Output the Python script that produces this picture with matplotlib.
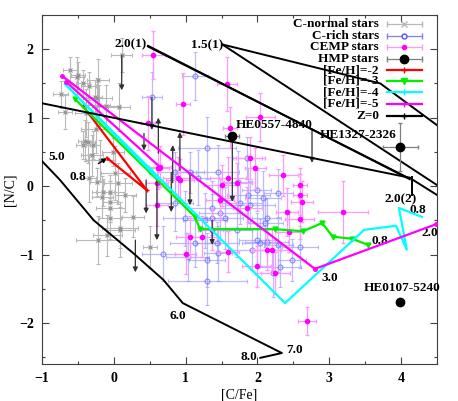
import numpy as np
import matplotlib
matplotlib.use("Agg")
from matplotlib import pyplot as plt
from matplotlib.ticker import MultipleLocator

plt.rcParams['font.family'] = ['Liberation Serif', 'DejaVu Serif']
plt.rcParams['font.weight'] = 'bold'
plt.rcParams['font.size'] = 9.5

# ---- observed stars ----
# C-normal stars
gray_x = [-0.61, -0.51, -0.22, -0.35, -0.23, -0.39, -0.74, -0.68, -0.11, 0.07,
          -0.25, -0.40, -0.01, -0.19, 0.02, -0.23, -0.16, 0.06, -0.36, -0.43,
          -0.29, -0.30, -0.35, -0.15, -0.05, -0.05, -0.05, 0.09, 0.16, -0.05,
          -0.22, 0.09, 0.27, 0.50, -0.09, -0.50, -0.43, -0.26, -0.21, 0.11]
gray_y = [1.69, 1.59, 1.55, 1.46, 1.28, 1.07, 1.34, 1.08, 1.17, 1.15,
          0.83, 0.66, 0.50, 0.38, 0.19, 0.06, -0.16, 0.04, 0.64, 0.60,
          0.60, 0.45, 0.12, -0.09, -0.09, -0.23, -0.47, -0.61, -0.13, -0.32,
          -0.79, -0.64, -0.45, -0.89, -0.72, 1.62, 1.50, 1.30, 1.18, 1.91]
gray_xerr = [0.1, 0.1, 0.15, 0.1, 0.2, 0.15, 0.1, 0.1, 0.2, 0.15,
             0.2, 0.1, 0.15, 0.2, 0.2, 0.1, 0.15, 0.2, 0.1, 0.1,
             0.1, 0.15, 0.1, 0.15, 0.2, 0.1, 0.15, 0.25, 0.15, 0.2,
             0.3, 0.2, 0.15, 0.1, 0.2, 0.1, 0.1, 0.1, 0.15, 0.15]
gray_yerr = [0.2, 0.3, 0.3, 0.2, 0.3, 0.35, 0.2, 0.25, 0.3, 0.35,
             0.35, 0.3, 0.2, 0.3, 0.4, 0.2, 0.3, 0.3, 0.3, 0.2,
             0.2, 0.3, 0.35, 0.2, 0.25, 0.3, 0.3, 0.3, 0.25, 0.2,
             0.35, 0.4, 0.3, 0.3, 0.3, 0.2, 0.2, 0.25, 0.3, 0.25]

# C-rich stars
blue_x = [1.13, 0.53, 1.30, 0.85, 1.06, 1.45, 1.73, 1.86, 1.17, 1.37,
          1.37, 0.99, 0.85, 1.87, 1.99, 2.08, 1.90, 1.72, 1.55, 1.27,
          0.69, 1.03, 1.30, 1.30, 1.13, 1.45, 1.44, 2.04, 2.29, 2.21,
          2.48, 2.59, 1.92, 1.76, 2.29, 1.99, 2.13, 2.31, 2.11, 1.48, 2.13]
blue_y = [1.61, 1.30, 0.56, 0.20, 0.20, 0.20, 0.06, 0.41, 0.12, -0.32,
          -0.47, -0.47, -0.25, -0.13, -0.06, -0.18, -0.28, -0.64, -0.47, -0.50,
          -0.99, -1.04, -1.08, -1.39, -0.83, -0.98, -0.83, -0.83, -0.86, -1.27,
          -1.08, -0.89, -0.93, -0.25, -0.10, -0.79, -0.82, -1.18, -0.54, -0.39, -0.47]
blue_xerr = [0.18, 0.14, 0.4, 0.25, 0.2, 0.3, 0.2, 0.2, 0.3, 0.35,
             0.2, 0.3, 0.25, 0.3, 0.2, 0.25, 0.35, 0.2, 0.25, 0.3,
             0.3, 0.3, 0.25, 0.55, 0.35, 0.2, 0.3, 0.25, 0.2, 0.25,
             0.2, 0.25, 0.3, 0.3, 0.2, 0.25, 0.3, 0.3, 0.25, 0.3, 0.2]
blue_yerr = [0.35, 0.37, 0.45, 0.3, 0.3, 0.4, 0.45, 0.3, 0.4, 0.4,
             0.35, 0.4, 0.4, 0.4, 0.3, 0.4, 0.35, 0.4, 0.45, 0.4,
             0.4, 0.35, 0.4, 0.35, 0.35, 0.4, 0.3, 0.35, 0.4, 0.35,
             0.3, 0.3, 0.3, 0.3, 0.35, 0.4, 0.35, 0.3, 0.35, 0.4, 0.3]

# CEMP stars
cemp_x = [0.55, 0.96, 0.48, 0.62, 0.92, 1.51, 0.60, 1.58, 2.04, 1.62,
          1.90, 1.97, 2.36, 2.59, 1.59, 2.59, 2.62, 2.59, 3.19, 2.41,
          2.44, 1.59, 1.99, 2.25, 2.69, 1.86, 2.20, 1.23, 1.72, 1.48,
          0.64, 0.89, 0.60, 1.06, 1.37, 1.00, 2.13]
cemp_y = [1.91, 1.20, 0.92, 0.26, 0.09, 0.01, 0.04, 1.49, 1.01, 0.85,
          0.41, 0.26, 0.16, 0.01, 0.12, -0.13, -0.23, -0.48, -0.38, -0.38,
          -0.67, -0.96, -1.17, -1.27, -1.97, -0.32, -0.93, -0.74, 0.04, -0.20,
          0.28, 0.12, -0.28, -0.74, -0.64, -0.99, -0.93]
cemp_xerr = [0.16, 0.1, 0.1, 0.15, 0.2, 0.25, 0.15, 0.14, 0.2, 0.1,
             0.2, 0.15, 0.2, 0.1, 0.25, 0.1, 0.15, 0.2, 0.35, 0.15,
             0.2, 0.15, 0.2, 0.2, 0.12, 0.2, 0.25, 0.2, 0.2, 0.2,
             0.15, 0.2, 0.15, 0.2, 0.2, 0.15, 0.2]
cemp_yerr = [0.35, 0.45, 0.4, 0.3, 0.3, 0.3, 0.3, 0.4, 0.35, 0.3,
             0.3, 0.3, 0.3, 0.25, 0.3, 0.3, 0.3, 0.3, 0.45, 0.35,
             0.3, 0.3, 0.3, 0.3, 0.2, 0.3, 0.3, 0.3, 0.3, 0.3,
             0.3, 0.3, 0.3, 0.3, 0.3, 0.3, 0.3]

# HMP stars
hmp_names = ['HE0557-4840', 'HE1327-2326', 'HE0107-5240']
hmp_x = [1.65, 3.99, 3.99]
hmp_y = [0.73, 0.57, -1.69]
hmp_xerr = [0.1, 0.24, 0.0]
hmp_yerr = [0.0, 0.35, 0.0]

# upper / lower limits (x, from, to)
lim_x = [0.11, 0.53, 0.62, 0.92, 0.82, 0.42, 2.76, 0.30, 0.60, 0.45, 0.80, 1.06, 1.37, 1.65]
lim_y0 = [1.91, 1.30, 0.48, 0.23, 0.05, 0.77, 0.82, -0.79, 0.09, 0.09, 0.20, 0.19, -0.50, 0.73]
lim_y1 = [1.40, 0.82, 1.00, 0.79, 0.60, 0.52, 0.34, -1.26, -0.79, -0.40, -0.38, -0.28, -0.86, -0.23]

# ---- models ----
fe2_x = [-0.43, 0.46, -0.095]
fe2_y = [1.17, -0.06, 0.41]
fe3_x = [-0.54, 0.50, 1.13, 1.20, 2.245, 2.635, 2.90, 3.05, 3.32, 3.54]
fe3_y = [1.27, 0.20, -0.45, -0.63, -0.63, -0.66, -0.54, -0.74, -0.77, -0.86]
fe4_x = [-0.68, 2.385, 3.485, 3.93, 4.08, 3.97, 4.29]
fe4_y = [1.49, -1.71, -0.64, -0.58, -0.93, -0.32, -0.45]
fe4b_x = [-0.64, 0.62]
fe4b_y = [1.45, 0.10]
fe5_x = [-0.72, 2.80, 4.48]
fe5_y = [1.61, -1.21, -0.56]
fe5b_x = [-0.66, 0.65]
fe5b_y = [1.52, 0.27]

z_tracks = [
    ([-1.0, -0.75, -0.28, 0.27, 0.69, 0.96, 2.34, 2.04],
     [0.365, 0.09, -0.50, -0.98, -1.37, -1.71, -2.44, -2.51]),
    ([0.476, 4.08], [2.04, 0.13]),
    ([0.476, 4.12], [2.05, 0.10]),
    ([-1.0, 4.13], [1.21, 0.12]),
    ([4.12, 4.5], [0.12, -0.13]),
    ([1.51, 3.71, 4.5], [2.07, 1.50, 0.89]),
    ([1.51, 4.5], [2.07, 0.015]),
    ([4.15, 4.15], [0.13, -0.13]),
]

fig = plt.figure(figsize=(4.58, 4.01), dpi=100)
ax = fig.add_axes([0.0917, 0.0923, 0.8624, 0.8703])

ax.errorbar(gray_x, gray_y, xerr=gray_xerr, yerr=gray_yerr, fmt='x', ms=3,
            color='#909090', ecolor='#b8b8b8', elinewidth=0.8, capsize=1.5, mew=0.8, zorder=2)
ax.errorbar(blue_x, blue_y, xerr=blue_xerr, yerr=blue_yerr, fmt='o', ms=3.5,
            mfc='none', mec='#6060ff', ecolor='#a0a0ff', elinewidth=0.9, capsize=1.5,
            mew=0.8, alpha=0.7, zorder=2)
ax.errorbar(cemp_x, cemp_y, xerr=cemp_xerr, yerr=cemp_yerr, fmt='o', ms=3,
            color='#ff00ff', ecolor='#ff99ff', elinewidth=0.9, capsize=1.5, zorder=3)

for x, y0, y1 in zip(lim_x, lim_y0, lim_y1):
    ax.annotate('', xy=(x, y1), xytext=(x, y0),
                arrowprops=dict(arrowstyle='-|>', color='#303030', lw=0.9,
                                mutation_scale=7, shrinkA=0, shrinkB=0), zorder=4)

ax.plot(fe2_x, fe2_y, color='#ff0000', lw=1.6, marker='+', ms=3, zorder=5)
ax.plot(fe3_x, fe3_y, color='#00ee00', lw=1.6, marker='v', ms=3.5, zorder=5)
ax.plot(fe4_x, fe4_y, color='#00ffff', lw=1.6, zorder=5)
ax.plot(fe4b_x, fe4b_y, color='#00ffff', lw=1.6, zorder=5)
ax.plot(fe5_x, fe5_y, color='#ff00ff', lw=1.6, marker='o', ms=2.5, zorder=5)
ax.plot(fe5b_x, fe5b_y, color='#ff00ff', lw=1.6, marker='o', ms=2.5, zorder=5)

for zx, zy in z_tracks:
    ax.plot(zx, zy, color='black', lw=1.4, zorder=6)

ax.errorbar(hmp_x, hmp_y, xerr=hmp_xerr, yerr=hmp_yerr, fmt='o', ms=6,
            color='black', ecolor='#808080', elinewidth=0.9, capsize=1.5, zorder=7)

# labels on the tracks
ax.text(-0.79, 0.42, '5.0', ha='center', va='center')
ax.text(0.89, -1.90, '6.0', ha='center', va='center')
ax.text(2.51, -2.39, '7.0', ha='center', va='center')
ax.text(1.88, -2.50, '8.0', ha='center', va='center')
ax.text(0.23, 2.07, '2.0(1)', ha='center', va='center')
ax.text(1.30, 2.06, '1.5(1)', ha='center', va='center')
ax.text(3.99, -0.20, '2.0(2)', ha='center', va='center')
ax.text(4.24, -0.35, '0.8', ha='center', va='center')
ax.text(4.40, -0.69, '2.0', ha='center', va='center')
ax.text(3.71, -0.80, '0.8', ha='center', va='center')
ax.text(3.01, -1.34, '3.0', ha='center', va='center')
ax.annotate('0.8', xy=(-0.095, 0.41), xytext=(-0.50, 0.13), ha='center', va='center',
            arrowprops=dict(arrowstyle='-|>', color='black', lw=0.9, mutation_scale=7, shrinkA=8, shrinkB=0))
ax.text(1.70, 0.89, hmp_names[0], ha='left', va='center')
ax.text(2.87, 0.74, hmp_names[1], ha='left', va='center')
ax.text(3.48, -1.49, hmp_names[2], ha='left', va='center')

# gnuplot style key
key_y = [0.974, 0.940, 0.908, 0.874, 0.842, 0.811, 0.779, 0.745, 0.711]
key_txt = ['C-normal stars', 'C-rich stars', 'CEMP stars', 'HMP stars',
           '[Fe/H]=-2', '[Fe/H]=-3', '[Fe/H]=-4', '[Fe/H]=-5', 'Z=0']
key_col = ['#b8b8b8', '#8080ff', '#ff99ff', '#808080', '#ff0000', '#00ee00', '#00ffff', '#ff00ff', 'black']
key_mk = ['x', 'o', 'o', 'o', '+', 'v', '+', '+', '+']
x0, x1 = 0.873, 0.962
for yk, t, c, m in zip(key_y, key_txt, key_col, key_mk):
    ax.text(0.853, yk, t, transform=ax.transAxes, ha='right', va='center')
    lw = 0.9 if yk > 0.86 else 1.6
    ax.plot([x0, x1], [yk, yk], color=c, lw=lw, transform=ax.transAxes, clip_on=False, zorder=8)
    if yk > 0.86:
        ax.plot([x0, x1], [yk, yk], '|', color=c, ms=4, transform=ax.transAxes, clip_on=False, zorder=8)
    xm = (x0 + x1) / 2
    if t == 'C-rich stars':
        ax.plot([xm], [yk], 'o', ms=3.5, mfc='white', mec='#5050ff', transform=ax.transAxes, zorder=9)
    elif t == 'CEMP stars':
        ax.plot([xm], [yk], 'o', ms=3, color='#ff00ff', transform=ax.transAxes, zorder=9)
    elif t == 'HMP stars':
        ax.plot([xm], [yk], 'o', ms=6, color='black', transform=ax.transAxes, zorder=9)
    else:
        ax.plot([xm], [yk], m, ms=4, color=c, transform=ax.transAxes, zorder=9)

ax.set_xlim(-1, 4.5)
ax.set_ylim(-2.6, 2.5)
ax.xaxis.set_major_locator(MultipleLocator(1))
ax.xaxis.set_minor_locator(MultipleLocator(0.5))
ax.yaxis.set_major_locator(MultipleLocator(1))
ax.yaxis.set_minor_locator(MultipleLocator(0.5))
ax.tick_params(which='both', direction='in', top=True, right=True, width=0.8, color='#404040')
ax.tick_params(which='major', length=5, labelsize=10, pad=6)
ax.tick_params(which='minor', length=2.5)
for s in ax.spines.values():
    s.set_color('#404040')
ax.set_xlabel('[C/Fe]', fontsize=10, labelpad=2)
ax.set_ylabel('[N/C]', fontsize=10, labelpad=2)

fig.savefig('out.png', dpi=100)
